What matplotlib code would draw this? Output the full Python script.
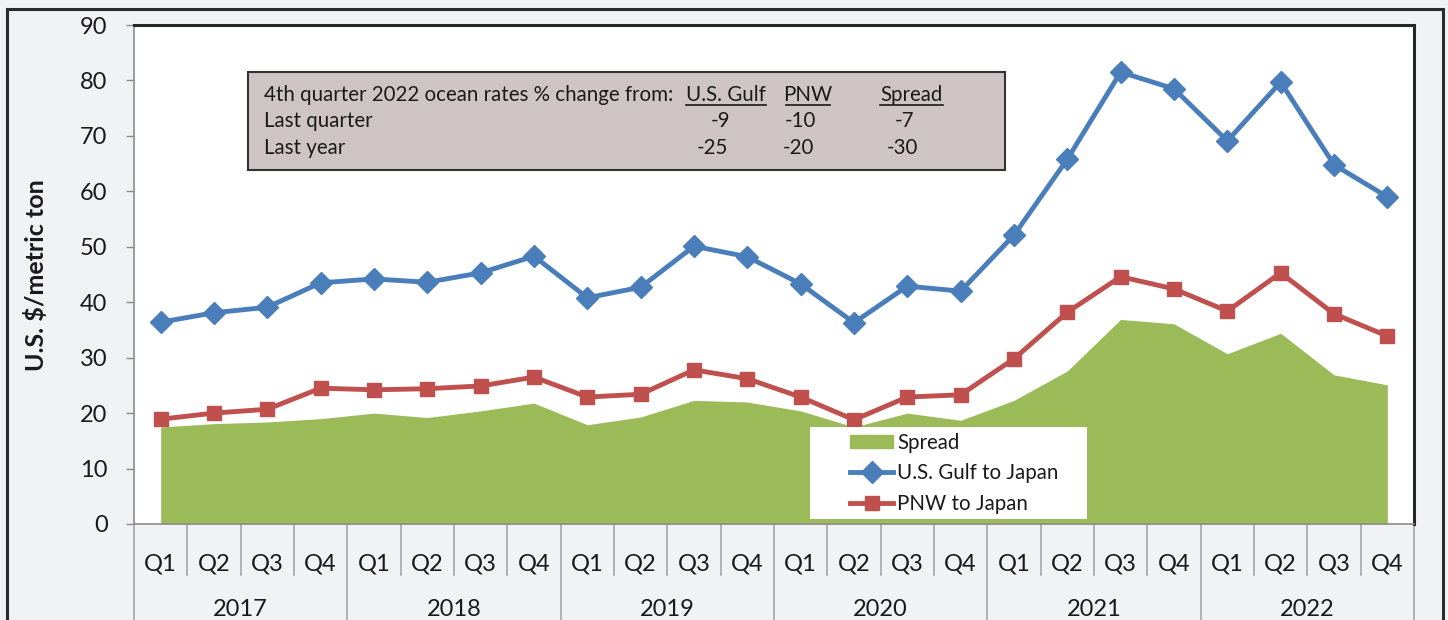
import matplotlib
matplotlib.use("Agg")
import matplotlib.pyplot as plt
from matplotlib.patches import Rectangle, Patch
from matplotlib.lines import Line2D
import matplotlib.transforms as mtransforms

plt.rcParams['font.family'] = ['Lato', 'DejaVu Sans']

years = ["2017", "2018", "2019", "2020", "2021", "2022"]
quarters = ["Q1", "Q2", "Q3", "Q4"]

gulf = [36.4, 38.1, 39.1, 43.5, 44.2, 43.6, 45.3, 48.3, 40.8, 42.7, 50.1, 48.2,
        43.3, 36.3, 42.9, 42.0, 52.1, 65.8, 81.5, 78.5, 69.1, 79.7, 64.8, 59.0]
pnw = [18.9, 20.0, 20.7, 24.5, 24.2, 24.4, 24.9, 26.5, 22.9, 23.4, 27.8, 26.2,
       22.9, 18.8, 22.9, 23.3, 29.8, 38.2, 44.6, 42.4, 38.4, 45.3, 37.9, 33.9]
spread = [17.5, 18.1, 18.4, 19.0, 20.0, 19.2, 20.4, 21.8, 17.9, 19.3, 22.3, 22.0,
          20.4, 17.5, 20.0, 18.7, 22.3, 27.6, 36.9, 36.1, 30.7, 34.4, 26.9, 25.1]

table_title = "4th quarter 2022 ocean rates % change from:"
table_cols = ["U.S. Gulf", "PNW", "Spread"]
table_rows = ["Last quarter", "Last year"]
table_vals = [["-9", "-10", "-7"], ["-25", "-20", "-30"]]

BLUE = "#4a7ebb"
RED = "#c0504d"
GREEN = "#9bbb59"
BG = "#f1f2f4"
TXT = "#1a1a1a"

W, H = 1448, 620
fig = plt.figure(figsize=(W / 100, H / 100), dpi=100, facecolor=BG)

def fx(x):
    return x / W

def fy(y):
    return 1 - y / H

# outer border
fig.patches.append(Rectangle((fx(7), fy(640)), fx(1443) - fx(7), fy(9) - fy(640),
                             transform=fig.transFigure, fill=False,
                             edgecolor="#2b2b2b", lw=2.2, zorder=0))

ax = fig.add_axes([fx(134), fy(524), fx(1414) - fx(134), fy(25) - fy(524)])
ax.set_facecolor("white")
axw = 1414 - 134
axh = 524 - 25

n = len(gulf)
x = list(range(n))

ax.fill_between(x, spread, 0, color=GREEN, lw=0, zorder=1)
ax.plot(x, gulf, color=BLUE, lw=3.5, marker="D", ms=11.5, mec=BLUE, mfc=BLUE,
        zorder=3)
ax.plot(x, pnw, color=RED, lw=3.5, marker="s", ms=10.5, mec=RED, mfc=RED,
        zorder=3)

ax.set_xlim(-0.5, n - 0.5)
ax.set_ylim(0, 90)
ax.set_yticks(range(0, 91, 10))
ax.tick_params(axis="y", direction="out", length=6, width=1, color="#8c8c8c",
               labelsize=17, labelcolor=TXT, pad=13)

ax.set_xticks(x)
ax.set_xticklabels([q for _ in years for q in quarters])
ax.tick_params(axis="x", length=0, labelsize=17, labelcolor=TXT, pad=21)

for s in ["left", "bottom"]:
    ax.spines[s].set_color("#8c8c8c")
    ax.spines[s].set_linewidth(1.2)
for s in ["top", "right"]:
    ax.spines[s].set_color("#262626")
    ax.spines[s].set_linewidth(2.2)

trans = mtransforms.blended_transform_factory(ax.transData, ax.transAxes)
for k in range(n + 1):
    bottom = -(96 / axh) if k % 4 == 0 else -(51 / axh)
    ax.plot([k - 0.5, k - 0.5], [0, bottom], transform=trans, color="#a6a6a6",
            lw=1.2, clip_on=False, zorder=0)
for i, yr in enumerate(years):
    ax.text(i * 4 + 1.5, -(86 / axh), yr, transform=trans, ha="center",
            va="center", fontsize=17, color=TXT)

fig.text(fx(36), fy(275), "U.S. $/metric ton", rotation=90, ha="center",
         va="center", fontsize=18, fontweight="bold", color=TXT)

# table box
fig.patches.append(Rectangle((fx(248), fy(170)), fx(1005) - fx(248), fy(72) - fy(170),
                             transform=fig.transFigure, facecolor="#cfc4c5",
                             edgecolor="#333333", lw=1.5, zorder=5))
tfs = 14.8
fig.text(fx(264), fy(95), table_title, fontsize=tfs, ha="left", va="center",
         color=TXT, zorder=6)
col_left = [686, 786, 880]
col_right = [766, 830, 943]
for c, lbl in enumerate(table_cols):
    fig.text(fx((col_left[c] + col_right[c]) / 2), fy(95), lbl, fontsize=tfs,
             ha="center", va="center", color=TXT, zorder=6)
    fig.add_artist(Line2D([fx(col_left[c]), fx(col_right[c])], [fy(105), fy(105)],
                          transform=fig.transFigure, color=TXT, lw=1.2,
                          zorder=6))
row_y = [121, 148]
val_x = [[720, 800, 905], [712, 798, 902]]
for r, lbl in enumerate(table_rows):
    fig.text(fx(264), fy(row_y[r]), lbl, fontsize=tfs, ha="left", va="center",
             color=TXT, zorder=6)
    for c, v in enumerate(table_vals[r]):
        fig.text(fx(val_x[r][c]), fy(row_y[r]), v, fontsize=tfs, ha="center",
                 va="center", color=TXT, zorder=6)

# legend: white backdrop + frameless legend
ax.add_patch(Rectangle(((810 - 134) / axw, (524 - 519) / axh),
                       (1087 - 810) / axw, (519 - 427) / axh,
                       transform=ax.transAxes, facecolor="white",
                       edgecolor="none", zorder=4))
handles = [Patch(facecolor=GREEN, edgecolor=GREEN),
           Line2D([], [], color=BLUE, lw=3.5, marker="D", ms=11.5),
           Line2D([], [], color=RED, lw=3.5, marker="s", ms=10.5)]
labels = ["Spread", "U.S. Gulf to Japan", "PNW to Japan"]
leg = ax.legend(handles, labels, loc="upper left",
                bbox_to_anchor=((850 - 134) / axw, (524 - 433) / axh),
                frameon=False, fontsize=14.8,
                handlelength=2.1, handletextpad=0.2, borderaxespad=0,
                borderpad=0, labelspacing=0.5, handleheight=0.6)
leg.set_zorder(5)
for t in leg.get_texts():
    t.set_color(TXT)

fig.savefig("out.png", dpi=100, facecolor=BG)
